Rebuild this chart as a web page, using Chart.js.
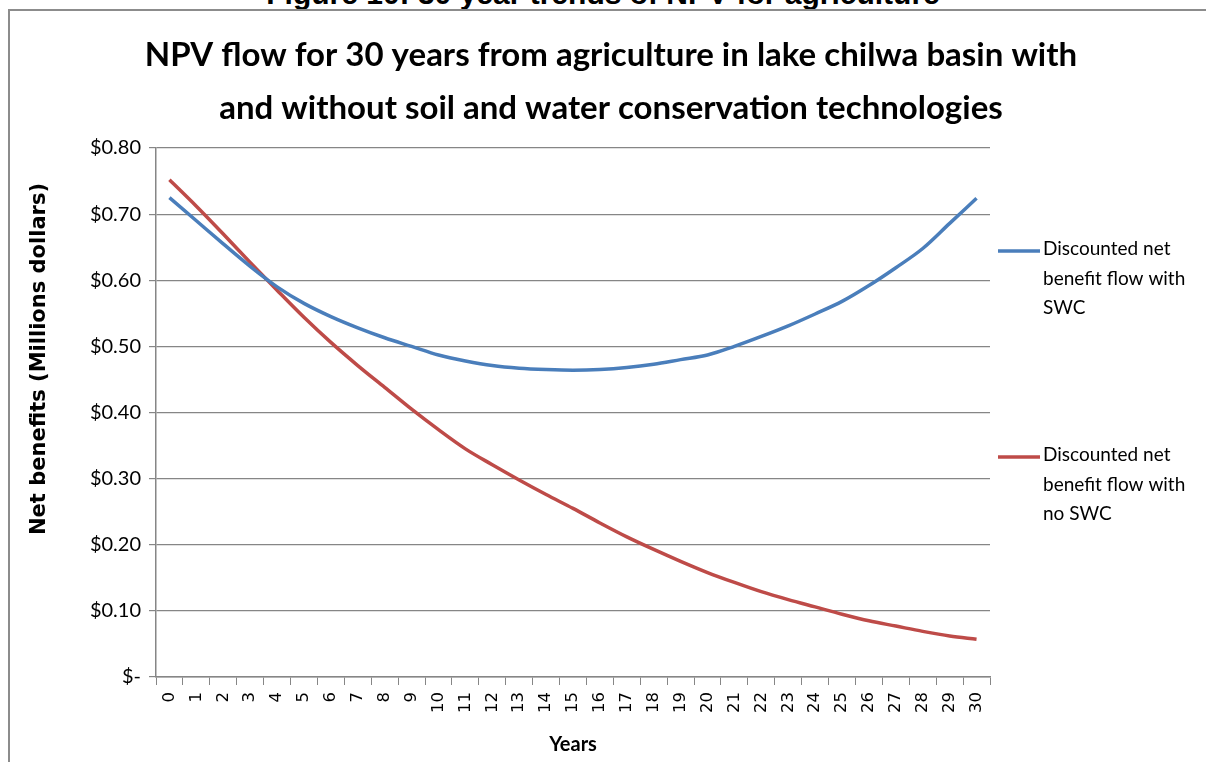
<!doctype html>
<html lang="en">
<head>
    <title>NPV flow for 30 years</title>
    <meta charset="UTF-8">
    <style>
        body { margin: 0; background: #fff; }
        #wrap { position: relative; width: 1206px; height: 762px; overflow: hidden; background: #fff; }
        #caption { position: absolute; left: 0; top: -23px; width: 1206px; text-align: center;
                   font: bold 30px "Liberation Sans", Arial, sans-serif; color: #000; }
        #frame { position: absolute; left: 8px; top: 9px; width: 1300px; height: 900px; border: 2px solid #8c8c8c; }
        #chart-box { position: absolute; left: 0; top: 0; width: 1206px; height: 762px; }
    </style>
</head>
<body>
<div id="wrap">
    <div id="caption">Figure 10: 30 year trends of NPV for agriculture</div>
    <div id="frame"></div>
    <div id="chart-box"><canvas id="npv-chart" width="1206" height="762"></canvas></div>
</div>
<script src="https://cdn.jsdelivr.net/npm/chart.js@4.4.1/dist/chart.umd.min.js"></script>
<script>

    // years 0..30
    const years = ['0','1','2','3','4','5','6','7','8','9','10','11','12','13','14','15',
                   '16','17','18','19','20','21','22','23','24','25','26','27','28','29','30'];

    // millions of dollars
    const withSWC = [0.725, 0.690, 0.655, 0.621, 0.590, 0.565, 0.545, 0.528, 0.513, 0.500, 0.487,
                     0.478, 0.471, 0.467, 0.465, 0.464, 0.465, 0.468, 0.473, 0.480, 0.487,
                     0.500, 0.515, 0.531, 0.549, 0.568, 0.592, 0.619, 0.648, 0.686, 0.724];
    const noSWC = [0.752, 0.712, 0.670, 0.627, 0.585, 0.544, 0.506, 0.471, 0.438, 0.405, 0.374,
                   0.345, 0.321, 0.298, 0.276, 0.255, 0.233, 0.212, 0.193, 0.175, 0.158,
                   0.143, 0.129, 0.117, 0.106, 0.095, 0.085, 0.077, 0.069, 0.062, 0.057];

    const legendSWC = ['Discounted net', 'benefit flow with', 'SWC'];
    const legendNoSWC = ['Discounted net', 'benefit flow with', 'no SWC'];

    const titleLines = ['NPV flow for 30 years from agriculture in lake chilwa basin with',
                        'and without soil and water conservation technologies'];
    const yTitle = 'Net benefits (Millions dollars)';

    const gridGrey = '#868686';
    const font = 'Lato, "Open Sans", sans-serif';
    const wideFont = '"DejaVu Sans", Verdana, sans-serif';

    // titles drawn by hand, excel puts them off-centre from the plot
    let bigTitle = {
        id: 'bigTitle',
        afterDraw(chart) {
            let ctx = chart.ctx;
            ctx.save();
            ctx.font = 'bold 33px ' + font;
            ctx.fillStyle = '#000';
            ctx.textAlign = 'center';
            ctx.textBaseline = 'middle';
            titleLines.forEach((t, k) => ctx.fillText(t, 611, 55 + k * 53));
            // y axis title
            ctx.translate(40, 359);
            ctx.rotate(-Math.PI / 2);
            ctx.font = 'bold 21px ' + wideFont;
            ctx.fillText(yTitle, 0, 0);
            ctx.restore();
        }
    };

    // legend on the right, multi-line like the excel one
    let sideLegend = {
        id: 'sideLegend',
        afterDraw(chart) {
            let ctx = chart.ctx;
            let tops = [251, 457];
            ctx.save();
            ctx.font = '19px ' + font;
            ctx.fillStyle = '#000';
            ctx.textBaseline = 'middle';
            chart.data.datasets.forEach((ds, i) => {
                let y = tops[i];
                ctx.strokeStyle = ds.borderColor;
                ctx.lineWidth = 3.5;
                ctx.beginPath();
                ctx.moveTo(998, y);
                ctx.lineTo(1040, y);
                ctx.stroke();
                ds.legendLines.forEach((t, k) => {
                    ctx.fillText(t, 1043, y - 2 + k * 29.5);
                });
            });
            ctx.restore();
        }
    };

    let config = {
        type: 'line',
        data: {
            labels: years,
            datasets: [{
                label: legendSWC.join(' '),
                legendLines: legendSWC,
                data: withSWC,
                borderColor: '#4a7ebb',
                borderWidth: 3.5,
                pointRadius: 0,
                cubicInterpolationMode: 'monotone',
                fill: false
            }, {
                label: legendNoSWC.join(' '),
                legendLines: legendNoSWC,
                data: noSWC,
                borderColor: '#be4b48',
                borderWidth: 3.5,
                pointRadius: 0,
                cubicInterpolationMode: 'monotone',
                fill: false
            }]
        },
        options: {
            responsive: false,
            animation: false,
            layout: {
                padding: { left: 26, right: 216, top: 148, bottom: 0 }
            },
            plugins: {
                legend: { display: false },
                tooltip: { enabled: false },
                title: { display: false }
            },
            scales: {
                x: {
                    offset: true,
                    afterFit: s => { s.height = 85; },
                    grid: {
                        offset: true,
                        drawOnChartArea: false,
                        drawTicks: true,
                        tickLength: 8,
                        color: gridGrey
                    },
                    border: { color: gridGrey, width: 1.5 },
                    ticks: {
                        autoSkip: false,
                        minRotation: 90,
                        maxRotation: 90,
                        color: '#000',
                        padding: 7,
                        font: { family: wideFont, size: 16.5 }
                    },
                    title: {
                        display: true,
                        text: 'Years',
                        color: '#000',
                        font: { family: font, size: 20, weight: 'bold' },
                        padding: { top: 0, bottom: 5 }
                    }
                },
                y: {
                    min: 0,
                    max: 0.8,
                    afterFit: s => { s.width = 130; },
                    grid: {
                        color: gridGrey,
                        lineWidth: 1.2,
                        tickLength: 7
                    },
                    border: { color: gridGrey, width: 1.5 },
                    ticks: {
                        stepSize: 0.1,
                        color: '#000',
                        padding: 8,
                        font: { family: font, size: 20 },
                        callback: v => v === 0 ? '$-' : '$' + v.toFixed(2)
                    }
                }
            }
        },
        plugins: [bigTitle, sideLegend]
    };

    let npvChart = new Chart(document.getElementById('npv-chart'), config);

</script>
</body>
</html>
